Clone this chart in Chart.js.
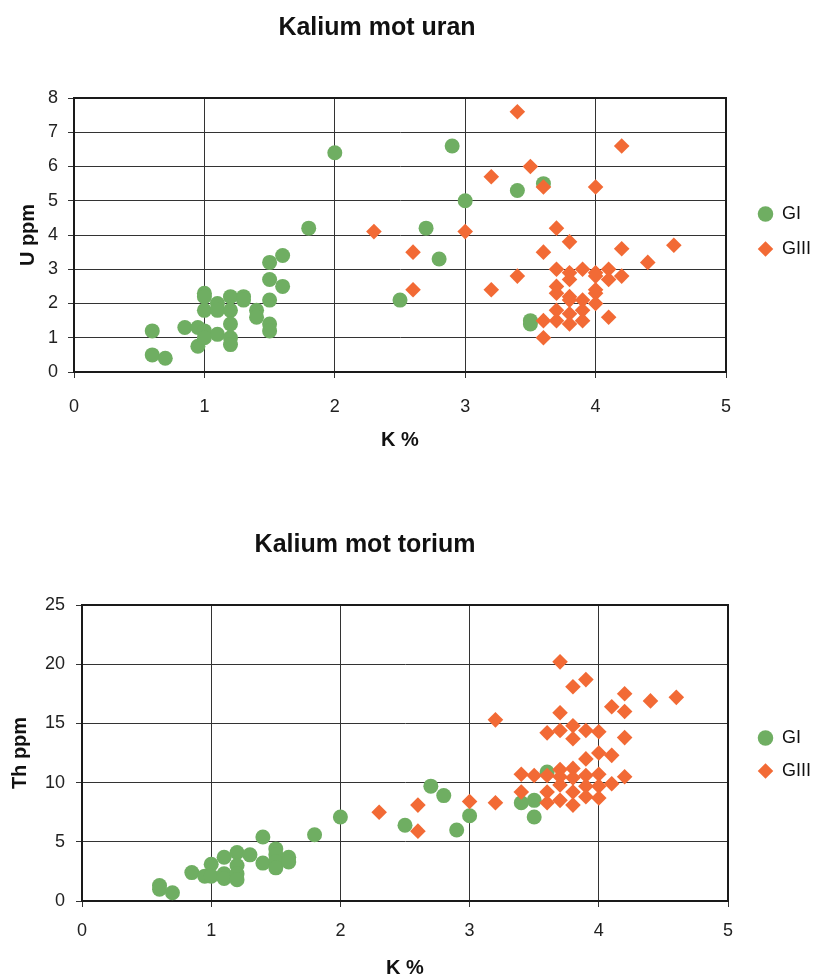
<!DOCTYPE html>
<html>
<head>
<meta charset="utf-8">
<script src="https://cdn.jsdelivr.net/npm/chart.js@4.4.1/dist/chart.umd.min.js"></script>
<style>
  body { margin: 0; background: #fff; }
  #wrapU { position: absolute; left: 0; top: 0; }
  #wrapTh { position: absolute; left: 0; top: 490px; }
</style>
</head>
<body>
<div id="wrapU"><canvas id="uranChart" width="819" height="480"></canvas></div>
<div id="wrapTh"><canvas id="toriumChart" width="819" height="490"></canvas></div>
<script>
// Kalium mot uran - GI
const uGI_K = [0.6, 0.6, 0.7, 0.85, 0.95, 0.95, 1.0, 1.0, 1.0, 1.0, 1.0, 1.1, 1.1, 1.1, 1.2, 1.2, 1.2, 1.2, 1.2, 1.3, 1.3,
  1.4, 1.4, 1.5, 1.5, 1.5, 1.5, 1.5, 1.6, 1.6, 1.8, 2.0, 2.5, 2.7, 2.8, 2.9, 3.0, 3.4, 3.5, 3.5, 3.6];
const uGI_U = [1.2, 0.5, 0.4, 1.3, 1.3, 0.75, 2.3, 2.2, 1.8, 1.2, 1.0, 2.0, 1.8, 1.1, 2.2, 1.8, 1.4, 1.0, 0.8, 2.2, 2.1,
  1.8, 1.6, 3.2, 2.7, 2.1, 1.4, 1.2, 3.4, 2.5, 4.2, 6.4, 2.1, 4.2, 3.3, 6.6, 5.0, 5.3, 1.5, 1.4, 5.5];
// Kalium mot uran - GIII
const uGIII_K = [2.3, 2.6, 2.6, 3.0, 3.2, 3.2, 3.4, 3.4, 3.5, 3.6, 3.6, 3.6, 3.6, 3.7, 3.7, 3.7, 3.7, 3.7, 3.7,
  3.8, 3.8, 3.8, 3.8, 3.8, 3.8, 3.8, 3.9, 3.9, 3.9, 3.9, 4.0, 4.0, 4.0, 4.0, 4.0, 4.0, 4.1, 4.1, 4.1, 4.2, 4.2, 4.2, 4.4, 4.6];
const uGIII_U = [4.1, 3.5, 2.4, 4.1, 5.7, 2.4, 7.6, 2.8, 6.0, 5.4, 3.5, 1.5, 1.0, 4.2, 3.0, 2.5, 2.3, 1.8, 1.5,
  3.8, 2.9, 2.7, 2.2, 2.1, 1.7, 1.4, 3.0, 2.1, 1.8, 1.5, 5.4, 2.9, 2.8, 2.4, 2.3, 2.0, 3.0, 2.7, 1.6, 6.6, 3.6, 2.8, 3.2, 3.7];

// Kalium mot torium - GI
const tGI_K = [0.6, 0.6, 0.7, 0.85, 0.95, 1.0, 1.0, 1.1, 1.1, 1.1, 1.2, 1.2, 1.2, 1.2, 1.3, 1.4, 1.4, 1.5, 1.5, 1.5, 1.5,
  1.6, 1.6, 1.8, 2.0, 2.5, 2.7, 2.8, 2.9, 3.0, 3.4, 3.5, 3.5, 3.6];
const tGI_Th = [1.3, 1.0, 0.7, 2.4, 2.1, 3.1, 2.1, 3.7, 2.3, 1.9, 4.1, 3.0, 2.3, 1.8, 3.9, 5.4, 3.2, 4.4, 3.9, 3.3, 2.8,
  3.7, 3.3, 5.6, 7.1, 6.4, 9.7, 8.9, 6.0, 7.2, 8.3, 8.5, 7.1, 10.9];
// Kalium mot torium - GIII
const tGIII_K = [2.3, 2.6, 2.6, 3.0, 3.2, 3.2, 3.4, 3.4, 3.5, 3.6, 3.6, 3.6, 3.6, 3.7, 3.7, 3.7, 3.7, 3.7, 3.7, 3.7,
  3.8, 3.8, 3.8, 3.8, 3.8, 3.8, 3.8, 3.9, 3.9, 3.9, 3.9, 3.9, 3.9, 4.0, 4.0, 4.0, 4.0, 4.0, 4.1, 4.1, 4.1, 4.2, 4.2, 4.2, 4.2, 4.4, 4.6];
const tGIII_Th = [7.5, 8.1, 5.9, 8.4, 15.3, 8.3, 10.7, 9.2, 10.6, 14.2, 10.6, 9.2, 8.3, 20.2, 15.9, 14.4, 11.1, 10.5, 9.8, 8.5,
  18.1, 14.8, 13.7, 11.2, 10.4, 9.2, 8.1, 18.7, 14.4, 12.0, 10.6, 9.7, 8.8, 14.3, 12.5, 10.7, 9.7, 8.7, 16.4, 12.3, 9.9, 17.5, 16.0, 13.8, 10.5, 16.9, 17.2];

const xTicks = [0, 1, 2, 3, 4, 5];
const seriesNames = ['GI', 'GIII'];

const green = '#6fae62';
const orange = '#f26a35';
const font = '"Liberation Sans", Arial, sans-serif';

const pts = (xs, ys) => xs.map((x, i) => ({ x: x, y: ys[i] }));

// places the title, legend and plot frame like the Excel original
const placePlugin = {
  id: 'place',
  beforeLayout(chart, args, opts) {
    const lg = chart.legend;
    if (lg && !lg._fixed) {
      const fit = lg.fit;
      lg.fit = function () { fit.call(this); this.width = opts.legendWidth; };
      lg._fixed = true;
    }
  },
  afterLayout(chart, args, opts) {
    chart.titleBlock.left = 0;
    chart.titleBlock.right = opts.titleCenter * 2;
    chart.legend.left = opts.legendLeft;
    chart.legend.top = opts.legendTop;
  },
  beforeDatasetsDraw(chart) {
    const { ctx, chartArea: a } = chart;
    ctx.save();
    ctx.strokeStyle = '#1a1a1a';
    ctx.lineWidth = 2;
    ctx.strokeRect(a.left, a.top, a.right - a.left, a.bottom - a.top);
    ctx.restore();
  }
};

function makeChart(id, cfg) {
  return new Chart(document.getElementById(id), {
    type: 'scatter',
    data: {
      datasets: [
        { label: seriesNames[0], data: cfg.gi, pointStyle: 'circle', pointRadius: 7.5, pointHoverRadius: 7.5,
          backgroundColor: green, borderColor: green, borderWidth: 0, order: 1 },
        { label: seriesNames[1], data: cfg.giii, pointStyle: 'rectRot', pointRadius: 7.8, pointHoverRadius: 7.8,
          backgroundColor: orange, borderColor: orange, borderWidth: 0, order: 0 }
      ]
    },
    plugins: [placePlugin],
    options: {
      responsive: false,
      animation: false,
      devicePixelRatio: 1,
      layout: { padding: 0 },
      scales: {
        x: {
          type: 'linear', min: 0, max: 5,
          afterFit: s => { s.height = cfg.xHeight; },
          afterBuildTicks: s => { s.ticks = xTicks.map(v => ({ value: v })); },
          ticks: { color: '#222', font: { family: font, size: 18 }, padding: cfg.xTickPad },
          grid: { color: '#333', lineWidth: 1, tickLength: 6 },
          border: { color: '#1a1a1a', width: 2 },
          title: { display: true, text: 'K %', color: '#111', font: { family: font, size: 20, weight: 'bold' },
            padding: { top: 0, bottom: cfg.xTitlePad } }
        },
        y: {
          type: 'linear', min: 0, max: cfg.yMax,
          afterFit: s => { s.width = cfg.yWidth; },
          afterBuildTicks: s => { s.ticks = cfg.yTicks.map(v => ({ value: v })); },
          ticks: { color: '#222', font: { family: font, size: 18 }, padding: cfg.yTickPad },
          grid: { color: '#333', lineWidth: 1, tickLength: 6 },
          border: { color: '#1a1a1a', width: 2 },
          title: { display: true, text: cfg.yTitle, color: '#111', font: { family: font, size: 20, weight: 'bold' },
            padding: { top: cfg.yTitlePad, bottom: 0 } }
        }
      },
      plugins: {
        place: cfg.place,
        title: {
          display: true, text: cfg.title, color: '#111',
          font: { family: font, size: 25, weight: 'bold' },
          padding: cfg.titlePad
        },
        legend: {
          position: 'right', align: 'start',
          labels: {
            usePointStyle: true, boxWidth: 15, boxHeight: 11, padding: cfg.legendPad,
            color: '#111', font: { family: font, size: 18 },
            sort: (a, b) => a.datasetIndex - b.datasetIndex
          }
        },
        tooltip: { enabled: false }
      }
    }
  });
}

makeChart('uranChart', {
  gi: pts(uGI_K, uGI_U),
  giii: pts(uGIII_K, uGIII_U),
  title: 'Kalium mot uran',
  yTitle: 'U ppm',
  yMax: 8,
  yTicks: [0, 1, 2, 3, 4, 5, 6, 7, 8],
  titlePad: { top: 13, bottom: 55 },
  xHeight: 108, xTickPad: 18, xTitlePad: 28,
  yWidth: 74, yTickPad: 10, yTitlePad: 16,
  legendPad: 17,
  place: { titleCenter: 377, legendWidth: 93, legendLeft: 741, legendTop: 188 }
});

makeChart('toriumChart', {
  gi: pts(tGI_K, tGI_Th),
  giii: pts(tGIII_K, tGIII_Th),
  title: 'Kalium mot torium',
  yTitle: 'Th ppm',
  yMax: 25,
  yTicks: [0, 5, 10, 15, 20, 25],
  titlePad: { top: 40, bottom: 45 },
  xHeight: 79, xTickPad: 13, xTitlePad: 0,
  yWidth: 82, yTickPad: 11, yTitlePad: 8,
  legendPad: 15,
  place: { titleCenter: 365, legendWidth: 91, legendLeft: 743, legendTop: 224 }
});
</script>
</body>
</html>
